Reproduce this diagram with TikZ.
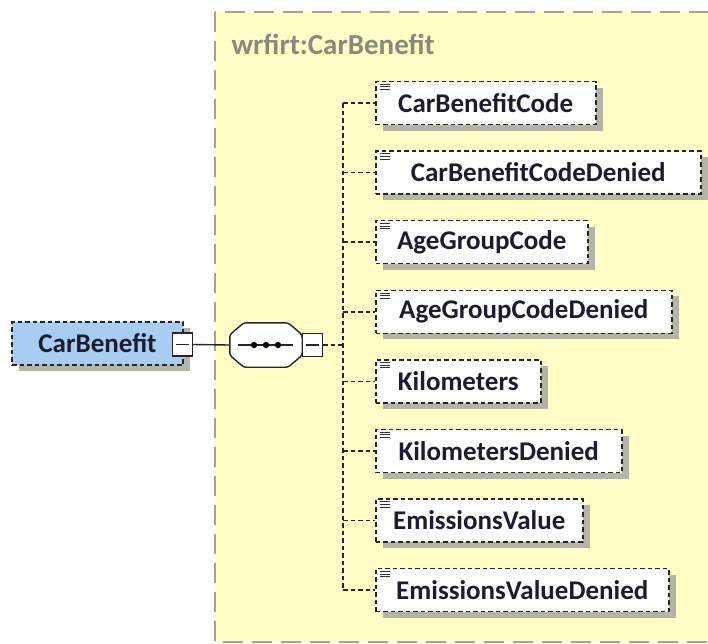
\documentclass[tikz,border=0pt]{standalone}
\usepackage{fontspec}
\setmainfont{Carlito}
\usetikzlibrary{shadows}
\definecolor{groupfill}{HTML}{FFFEC6}
\definecolor{groupline}{HTML}{A4A493}
\definecolor{labelgrey}{HTML}{8A8A7A}
\definecolor{rootfill}{HTML}{A8CCF2}
\definecolor{textnavy}{HTML}{1C1C30}
\definecolor{shadowgrey}{HTML}{B4B4A8}
\tikzset{
  dashline/.style={line width=1.5pt, dash pattern=on 4.5pt off 3pt},
  eshadow/.style={drop shadow={shadow xshift=7pt, shadow yshift=-6pt, fill=shadowgrey, opacity=1}},
  elem/.style={draw=black!85, dashline, fill=white, eshadow, anchor=west,
    font=\fontsize{27}{30}\selectfont\bfseries, text=textnavy,
    minimum height=43pt, inner sep=0pt},
  rootbox/.style={elem, fill=rootfill, anchor=center},
  minusbox/.style={draw=black!85, solid, line width=1.3pt, fill=white,
    minimum width=20pt, minimum height=23pt, inner sep=0pt},
  seqanchor/.style={minimum width=72pt, minimum height=44pt, inner sep=0pt},
  octa/.style={draw=black!85, line width=1.4pt, fill=white, rounded corners=2.5pt},
  conn/.style={black!85, dashline},
  solidconn/.style={black!85, line width=1.4pt},
}
\begin{document}
\begin{tikzpicture}[x=1pt,y=-1pt]
\useasboundingbox (0,0) rectangle (708,643);
\begin{scope}
  \clip (0,0) rectangle (708,643);
  \draw[groupline, fill=groupfill, line width=2.6pt, dash pattern=on 20pt off 9pt] (215,12) rectangle (760,642);
\end{scope}
\node[anchor=west, text=labelgrey, font=\fontsize{29}{32}\selectfont\bfseries] (lbl) at (228,44) {wrfirt:CarBenefit};

% children
\foreach \txt/\w [count=\i from 0] in {CarBenefitCode/220, CarBenefitCodeDenied/325, AgeGroupCode/212, AgeGroupCodeDenied/296, Kilometers/165, KilometersDenied/246, EmissionsValue/207, EmissionsValueDenied/293}{
  \node[elem, minimum width=\w pt] (c\i) at (375, 103+69.6*\i) {\txt};
  \coordinate (t\i) at (343, 103+69.6*\i);
  \foreach \k in {0,1,2}{
    \draw[black!80, line width=0.9pt] ([xshift=5pt, yshift=-3.5pt-2.6*\k pt]c\i.north west) -- ++(10pt,0);
  }
}
\draw[conn] (t0) -- (t7);
\foreach \i in {0,...,7}{ \draw[conn] (t\i) -- (c\i.west); }

% root
\node[rootbox, minimum width=171pt] (root) at (97.5,343.5) {CarBenefit};
\node[minusbox] (m1) at (182.5,344.5) {};
\draw[solidconn] ([xshift=4pt]m1.west) -- ([xshift=-4pt]m1.east);

% sequence compositor (octagon)
\node[seqanchor] (seq) at (266,345) {};
\fill[shadowgrey, rounded corners=2.5pt, shift={(7,6)}]
  ([xshift=14pt]seq.north west) -- ([xshift=-14pt]seq.north east) -- ([yshift=-12pt]seq.north east)
  -- ([yshift=12pt]seq.south east) -- ([xshift=-14pt]seq.south east) -- ([xshift=14pt]seq.south west)
  -- ([yshift=12pt]seq.south west) -- ([yshift=-12pt]seq.north west) -- cycle;
\draw[octa]
  ([xshift=14pt]seq.north west) -- ([xshift=-14pt]seq.north east) -- ([yshift=-12pt]seq.north east)
  -- ([yshift=12pt]seq.south east) -- ([xshift=-14pt]seq.south east) -- ([xshift=14pt]seq.south west)
  -- ([yshift=12pt]seq.south west) -- ([yshift=-12pt]seq.north west) -- cycle;
\draw[solidconn] (m1.east) -- (seq.west);
\draw[solidconn] ([xshift=8pt]seq.west) -- ([xshift=-9pt]seq.east);
\foreach \dx in {-12,0,12}{ \fill[black] ([xshift=\dx pt]seq.center) circle (3.2pt); }

\node[minusbox] (m2) at (312.5,345) {};
\draw[solidconn] ([xshift=4pt]m2.west) -- ([xshift=-4pt]m2.east);
\draw[conn] (m2.east) -- (m2.east -| t0);
\end{tikzpicture}
\end{document}
